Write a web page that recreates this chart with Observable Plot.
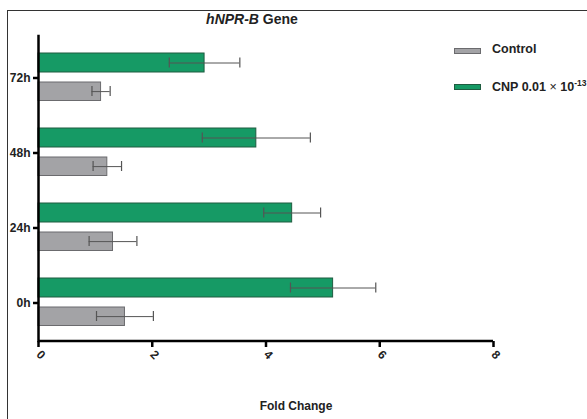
<!DOCTYPE html>
<html>
<head>
<meta charset="utf-8">
<script src="https://cdn.jsdelivr.net/npm/d3@7"></script>
<script src="https://cdn.jsdelivr.net/npm/@observablehq/plot@0.6"></script>
<style>
  html, body { margin: 0; padding: 0; background: #fff; }
  #wrap { position: relative; width: 587px; height: 419px; overflow: hidden; font-family: "Liberation Sans", Arial, sans-serif; }
  #border { position: absolute; left: 7px; top: 10px; width: 700px; height: 500px; border-left: 1px solid #333; border-top: 1px solid #333; }
  #title { position: absolute; top: 11px; left: 190px; width: 124px; text-align: center; font-size: 14px; font-weight: bold; color: #222; white-space: nowrap; }
  .leg { position: absolute; left: 454px; font-size: 12.5px; font-weight: bold; color: #222; white-space: nowrap; }
  .sw { position: absolute; left: 0; top: 6px; width: 25px; height: 4px; border: 1px solid; }
  .leg span.t { position: absolute; left: 38px; top: 0; }
  svg { position: absolute; left: 0; top: 0; }
</style>
</head>
<body>
<div id="wrap">
  <div id="border"></div>
  <div id="title"><i>hNPR-B</i> Gene</div>
  <div class="leg" style="top:42px"><div class="sw" style="background:#a3a3a6;border-color:#6b6b6e"></div><span class="t">Control</span></div>
  <div class="leg" style="top:78px"><div class="sw" style="background:#169a65;border-color:#1f5c40"></div><span class="t">CNP 0.01 <span style="font-weight:normal">×</span> 10<sup style="font-size:8.5px">-13</sup></span></div>
</div>
<script>
const times = ["72h", "48h", "24h", "0h"];
const cnpMean = [2.92, 3.83, 4.46, 5.18];
const cnpSD = [0.62, 0.95, 0.50, 0.75];
const ctrlMean = [1.10, 1.21, 1.31, 1.52];
const ctrlSD = [0.16, 0.25, 0.42, 0.50];
const xTicks = [0, 2, 4, 6, 8];

const cnp = times.map((t, i) => ({time: t, mean: cnpMean[i], lo: cnpMean[i] - cnpSD[i], hi: cnpMean[i] + cnpSD[i]}));
const ctrl = times.map((t, i) => ({time: t, mean: ctrlMean[i], lo: ctrlMean[i] - ctrlSD[i], hi: ctrlMean[i] + ctrlSD[i]}));

const GREEN = "#169a65", GREEN_S = "#1f5c40", GRAY = "#a3a3a6", GRAY_S = "#6b6b6e", ERR = "#555";

const chart = Plot.plot({
  width: 587,
  height: 419,
  marginLeft: 38,
  marginRight: 94,
  marginTop: 38,
  marginBottom: 78,
  style: {fontFamily: "Liberation Sans, Arial, sans-serif", fontSize: "12px", fontWeight: "bold", color: "#222", background: "transparent"},
  x: {domain: [0, 8]},
  y: {domain: times, padding: 0},
  marks: [
    Plot.barX(cnp, {y: "time", x: "mean", fill: GREEN, stroke: GREEN_S, strokeWidth: 1, insetTop: 13, insetBottom: 43}),
    Plot.barX(ctrl, {y: "time", x: "mean", fill: GRAY, stroke: GRAY_S, strokeWidth: 1, insetTop: 42, insetBottom: 14.5}),
    Plot.ruleY(cnp, {y: "time", x1: "lo", x2: "hi", stroke: ERR, strokeWidth: 1, dy: -15}),
    Plot.tickX(cnp, {y: "time", x: "lo", stroke: ERR, strokeWidth: 1.2, insetTop: 17.5, insetBottom: 47.5}),
    Plot.tickX(cnp, {y: "time", x: "hi", stroke: ERR, strokeWidth: 1.2, insetTop: 17.5, insetBottom: 47.5}),
    Plot.ruleY(ctrl, {y: "time", x1: "lo", x2: "hi", stroke: ERR, strokeWidth: 1, dy: 13.6}),
    Plot.tickX(ctrl, {y: "time", x: "lo", stroke: ERR, strokeWidth: 1.2, insetTop: 46, insetBottom: 19}),
    Plot.tickX(ctrl, {y: "time", x: "hi", stroke: ERR, strokeWidth: 1.2, insetTop: 46, insetBottom: 19}),
    Plot.ruleX([0], {stroke: "#000", strokeWidth: 2.5, strokeLinecap: "square", insetTop: -2}),
    Plot.ruleY(["0h"], {x1: 0, x2: 8, dy: 37.9, stroke: "#000", strokeWidth: 2.5}),
    Plot.axisY({tickSize: 5, tickPadding: 3, strokeWidth: 2.5, stroke: "#000", label: null, fontWeight: "bold", fontSize: 12, fill: "#222"}),
    Plot.axisX({ticks: xTicks, tickSize: 6, tickPadding: 5, tickRotate: 45, strokeWidth: 2.5, stroke: "#000", label: null, fontSize: 12, fill: "#222"}),
    Plot.text(["Fold Change"], {frameAnchor: "bottom", dy: 68, dx: 30, fontWeight: "bold", fontSize: 12, fill: "#222"})
  ]
});
document.getElementById("wrap").appendChild(chart);
</script>
</body>
</html>
